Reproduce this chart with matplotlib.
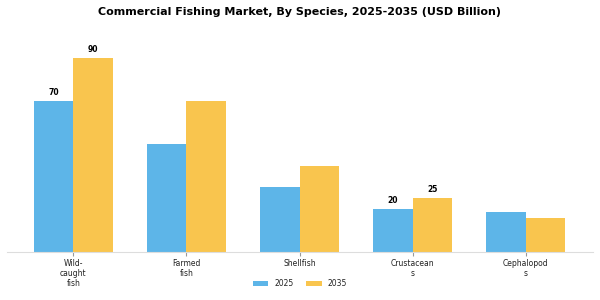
import matplotlib
matplotlib.use("Agg")
import matplotlib.pyplot as plt
import numpy as np

categories = ["Wild-\ncaught\nfish", "Farmed\nfish", "Shellfish", "Crustacean\ns", "Cephalopod\ns"]
series_names = ["2025", "2035"]
values_2025 = [70, 50, 30, 20, 18.5]
values_2035 = [90, 70, 40, 25, 15.5]
labeled = [0, 3]

fig = plt.figure(figsize=(6, 3), dpi=100)
ax = fig.add_axes([7/600, 1-251.7/300, 585.7/600, (251.7-36.7)/300])
x = np.arange(len(categories))
w = 0.35
c1, c2 = "#5DB5E8", "#F9C54E"
b1 = ax.bar(x - w/2, values_2025, w, color=c1, label=series_names[0])
b2 = ax.bar(x + w/2, values_2035, w, color=c2, label=series_names[1])
for i in labeled:
    ax.text(x[i] - w/2, values_2025[i] + 1.8, f"{values_2025[i]:g}", ha="center", va="bottom", fontsize=5.5, fontweight="bold")
    ax.text(x[i] + w/2, values_2035[i] + 1.8, f"{values_2035[i]:g}", ha="center", va="bottom", fontsize=5.5, fontweight="bold")
ax.set_xlim(-0.586, 4.592)
ax.set_ylim(0, 100)
ax.set_yticks([])
ax.set_xticks(x)
ax.set_xticklabels(categories, fontsize=5.5, linespacing=1.15, color="#222222")
ax.tick_params(axis="x", length=3, color="#999999", pad=2)
for s in ["top", "right", "left"]:
    ax.spines[s].set_visible(False)
ax.spines["bottom"].set_color("#dddddd")
fig.suptitle("Commercial Fishing Market, By Species, 2025-2035 (USD Billion)", fontsize=8, fontweight="bold", y=0.96, va="center")
fig.legend(handles=[b1, b2], loc="center", bbox_to_anchor=(0.5, 1-284/300), ncol=2, frameon=False, fontsize=5.5,
           handlelength=2.0, handleheight=0.6, handletextpad=0.8, columnspacing=1.7, labelcolor="#222222")
fig.savefig("out.png", dpi=100)
